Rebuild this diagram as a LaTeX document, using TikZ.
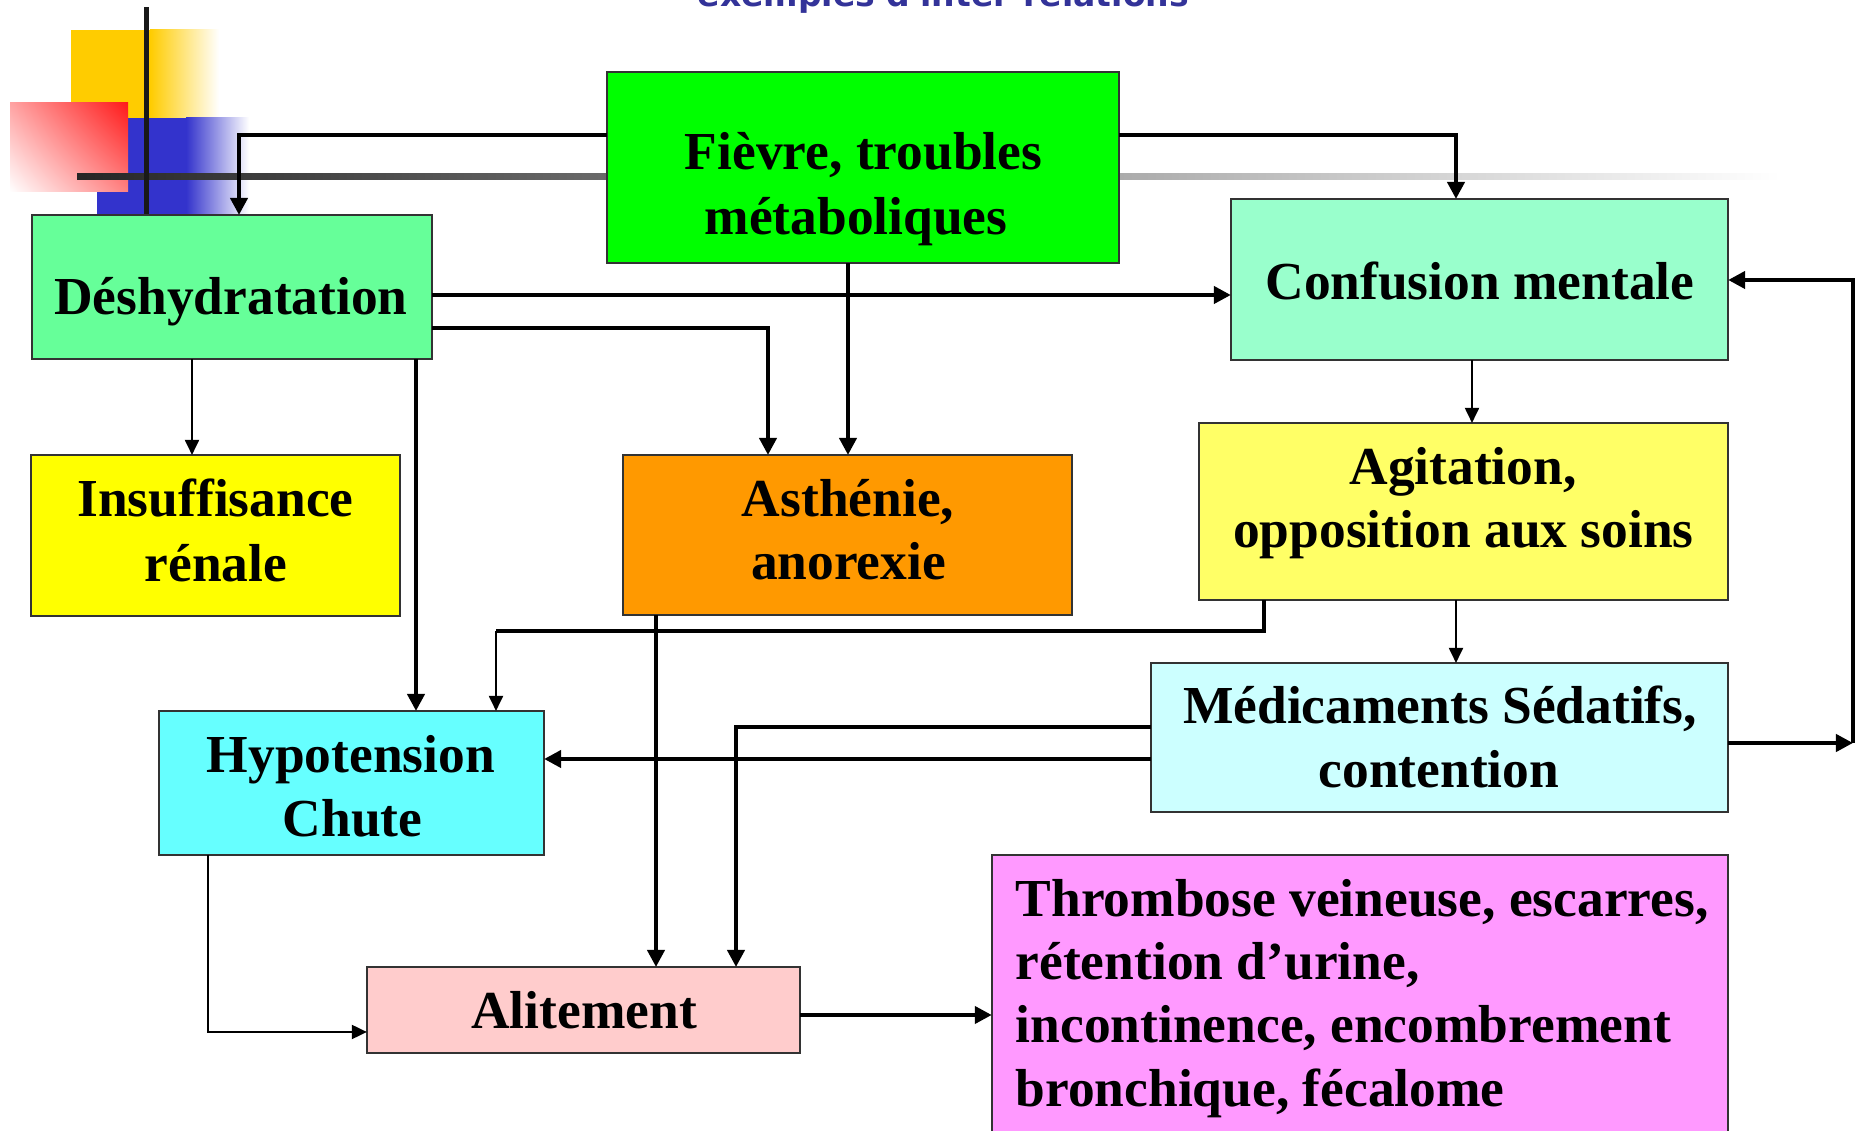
\documentclass[tikz,border=0pt]{standalone}
\usepackage{fontspec}
\usepackage{graphicx}
\setmainfont{Liberation Serif}
\newfontfamily\titlefont{DejaVu Sans}
\usetikzlibrary{arrows.meta,calc,shadings}
\definecolor{cFievre}{HTML}{00FF00}
\definecolor{cDesh}{HTML}{66FF99}
\definecolor{cConf}{HTML}{99FFCC}
\definecolor{cInsuf}{HTML}{FFFF00}
\definecolor{cAsth}{HTML}{FF9900}
\definecolor{cAgit}{HTML}{FFFF66}
\definecolor{cMed}{HTML}{CCFFFF}
\definecolor{cHypo}{HTML}{66FFFF}
\definecolor{cAlit}{HTML}{FFCCCC}
\definecolor{cPink}{HTML}{FF99FF}
\definecolor{decoyellow}{HTML}{FFCC00}
\definecolor{decoblue}{HTML}{3333CC}
\definecolor{decored}{HTML}{FF1A1A}
\definecolor{titleblue}{HTML}{333399}
\begin{document}
\begin{tikzpicture}[x=0.01cm,y=-0.01cm,
  box/.style={draw=black!80, line width=0.6pt, inner sep=0pt, outer sep=0pt},
  lbl/.style={font=\fontsize{15.2pt}{18pt}\selectfont\bfseries, anchor=base, inner sep=0pt},
  lblw/.style={lbl, anchor=base west},
  thk/.style={line width=1.15pt, -{Triangle[length=0.17cm,width=0.17cm]}},
  thkline/.style={line width=1.15pt},
  thn/.style={line width=0.55pt, -{Triangle[length=0.15cm,width=0.14cm]}}
]
\useasboundingbox (0,0) rectangle (1856,1131);
\clip (0,0) rectangle (1856,1131);
\fill[white] (0,0) rectangle (1856,1131);

% title (mostly cut off at the top)
\node[anchor=base west, inner sep=0pt, text=titleblue] (title) at (697,7)
  {\resizebox{4.91cm}{!}{\titlefont\bfseries exemples d'inter-relations}};

% decoration top left
\fill[decoyellow] (71,30) rectangle (151,118);
\shade[left color=decoyellow, right color=white] (150,30) rectangle (219,118);
\fill[decoblue] (97,118) rectangle (187,215);
\shade[left color=decoblue, right color=white] (186,118) rectangle (249,215);
\shade[upper left=decored!40, upper right=decored, lower left=white, lower right=decored!55] (10,103) rectangle (128,192);
\shade[left color=black!85, middle color=black!45, right color=white] (77,174) rectangle (1780,180);
\fill[black!90] (143.5,7) rectangle (148.5,215);

% boxes
\node[box, fill=cFievre, minimum width=5.12cm, minimum height=1.91cm] (fievre) at (863,167.5) {};
\node[box, fill=cDesh, minimum width=4.00cm, minimum height=1.44cm] (desh) at (232,287) {};
\node[box, fill=cConf, minimum width=4.97cm, minimum height=1.61cm] (conf) at (1479.5,279.5) {};
\node[box, fill=cInsuf, minimum width=3.69cm, minimum height=1.61cm] (insuf) at (215.5,535.5) {};
\node[box, fill=cAsth, minimum width=4.49cm, minimum height=1.60cm] (asth) at (847.5,535) {};
\node[box, fill=cAgit, minimum width=5.29cm, minimum height=1.77cm] (agit) at (1463.5,511.5) {};
\node[box, fill=cMed, minimum width=5.77cm, minimum height=1.49cm] (med) at (1439.5,737.5) {};
\node[box, fill=cHypo, minimum width=3.85cm, minimum height=1.44cm] (hypo) at (351.5,783) {};
\node[box, fill=cAlit, minimum width=4.33cm, minimum height=0.86cm] (alit) at (583.5,1010) {};
\node[box, fill=cPink, minimum width=7.36cm, minimum height=3.45cm] (pink) at (1360,1027.5) {};

% texts
\node[lbl] (tf1) at (863.5,170) {Fièvre, troubles};
\node[lbl] (tf2) at (856,235) {métaboliques};
\node[lbl] (td1) at (231,315) {Déshydratation};
\node[lbl] (tc1) at (1480,300) {Confusion mentale};
\node[lbl] (ti1) at (215.5,517) {Insuffisance};
\node[lbl] (ti2) at (216,582) {rénale};
\node[lbl] (ta1) at (848,517) {Asthénie,};
\node[lbl] (ta2) at (848.5,580) {anorexie};
\node[lbl] (tg1) at (1463,485) {Agitation,};
\node[lbl] (tg2) at (1463.5,548) {opposition aux soins};
\node[lbl] (tm1) at (1440,724) {Médicaments Sédatifs,};
\node[lbl] (tm2) at (1439,788) {contention};
\node[lbl] (th1) at (351,773) {Hypotension};
\node[lbl] (th2) at (352.5,837) {Chute};
\node[lbl] (tl1) at (584,1029) {Alitement};
\node[lblw] (tp1) at (1015,917) {Thrombose veineuse, escarres,};
\node[lblw] (tp2) at (1015,980) {rétention d’urine,};
\node[lblw] (tp3) at (1015,1043) {incontinence, encombrement};
\node[lblw] (tp4) at (1015,1107) {bronchique, fécalome};

% connector bend points
\coordinate (k1) at (239,135);
\coordinate (k2) at (1456,135);
\coordinate (k3) at (848,400);
\coordinate (k4) at (700,295);
\coordinate (k5) at (768,328);
\coordinate (k6) at (192,400);
\coordinate (k7) at (416,500);
\coordinate (k8a) at (1264,631);
\coordinate (k8b) at (496,631);
\coordinate (k9) at (1472,400);
\coordinate (k10) at (1456,630);
\coordinate (kr) at (1853,743);
\coordinate (kt) at (1853,280);
\coordinate (k12) at (900,759);
\coordinate (k13) at (736,727);
\coordinate (k14) at (656,800);
\coordinate (k15) at (208,1032);
\coordinate (k16) at (900,1015);

% connectors
\draw[thk] (fievre.west |- k1) -- (k1) -- (desh.north -| k1);
\draw[thk] (fievre.east |- k2) -- (k2) -- (conf.north -| k2);
\draw[thk] (fievre.south -| k3) -- (asth.north -| k3);
\draw[thk] (desh.east |- k4) -- (conf.west |- k4);
\draw[thk] (desh.east |- k5) -- (k5) -- (asth.north -| k5);
\draw[thn] (desh.south -| k6) -- (insuf.north -| k6);
\draw[thk] (desh.south -| k7) -- (hypo.north -| k7);
\draw[thkline] (agit.south -| k8a) -- (k8a) -- (k8b);
\draw[thn] (k8b) -- (hypo.north -| k8b);
\draw[thn] (conf.south -| k9) -- (agit.north -| k9);
\draw[thn] (agit.south -| k10) -- (med.north -| k10);
\draw[thk] (med.east |- kr) -- (kr);
\draw[thk] (kr) -- (kt) -- (conf.east |- kt);
\draw[thk] (med.west |- k12) -- (hypo.east |- k12);
\draw[thk] (med.west |- k13) -- (k13) -- (alit.north -| k13);
\draw[thk] (asth.south -| k14) -- (alit.north -| k14);
\draw[thn] (hypo.south -| k15) -- (k15) -- (alit.west |- k15);
\draw[thk] (alit.east |- k16) -- (pink.west |- k16);
\end{tikzpicture}
\end{document}
